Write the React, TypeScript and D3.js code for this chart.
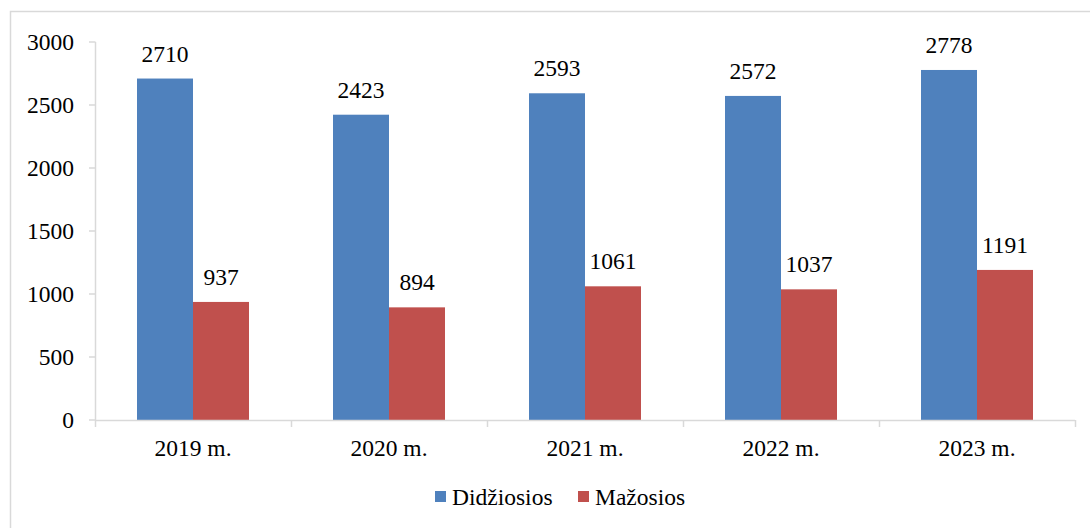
import React from 'react';
import * as d3 from 'd3';

const years = ['2019 m.', '2020 m.', '2021 m.', '2022 m.', '2023 m.'];
const seriesNames = ['Didžiosios', 'Mažosios'];
const didziosios = [2710, 2423, 2593, 2572, 2778];
const mazosios = [937, 894, 1061, 1037, 1191];
const yTicks = [0, 500, 1000, 1500, 2000, 2500, 3000];
const colors = ['#4f81bd', '#c0504d'];

const width = 1090;
const height = 528;
const textStyle = { fontFamily: '"Liberation Serif", "Times New Roman", serif', fontSize: '23.5px' };

export default function App() {
  const x = d3.scaleBand().domain(years).range([95, 1075]);
  const inner = d3.scaleBand().domain(seriesNames).range([42, x.bandwidth() - 42]);
  const y = d3.scaleLinear().domain([0, 3000]).range([420, 42]);
  const series = [didziosios, mazosios];
  const axisColor = '#d9d9d9';

  return (
    <svg width={width} height={height} style={{ position: 'absolute', left: 0, top: 0, background: '#fff' }}>
      <rect x={10.5} y={11.5} width={1100} height={540} fill="#fff" stroke={axisColor} strokeWidth={1.5} />
      {/* y axis */}
      <line x1={95.5} x2={95.5} y1={y(3000)} y2={y(0)} stroke={axisColor} strokeWidth={1.5} />
      {yTicks.map(t => (
        <g key={t}>
          <line x1={89} x2={95.5} y1={y(t)} y2={y(t)} stroke={axisColor} strokeWidth={1.5} />
          <text x={74} y={y(t)} dy="0.33em" textAnchor="end" style={textStyle} fill="#000">
            {t}
          </text>
        </g>
      ))}
      {/* bars */}
      {years.map((yr, i) => (
        <g key={yr} transform={`translate(${x(yr)},0)`}>
          {seriesNames.map((s, j) => {
            const v = series[j][i];
            const bx = inner(s)!;
            return (
              <g key={s}>
                <rect x={bx} y={y(v)} width={inner.bandwidth()} height={y(0) - y(v)} fill={colors[j]} />
                <text x={bx + inner.bandwidth() / 2} y={y(v) - 17} textAnchor="middle" style={textStyle} fill="#000">
                  {v}
                </text>
              </g>
            );
          })}
        </g>
      ))}
      {/* x axis */}
      <line x1={95} x2={1075} y1={420.5} y2={420.5} stroke={axisColor} strokeWidth={1.5} />
      {[...years.map(yr => x(yr)!), 1075].map((px, i) => (
        <line key={i} x1={px + 0.5} x2={px + 0.5} y1={420} y2={427} stroke={axisColor} strokeWidth={1.5} />
      ))}
      {years.map(yr => (
        <text key={yr} x={x(yr)! + x.bandwidth() / 2} y={456} textAnchor="middle" style={textStyle} fill="#000">
          {yr}
        </text>
      ))}
      {/* legend */}
      {seriesNames.map((s, j) => {
        const lx = j === 0 ? 435 : 578;
        return (
          <g key={s}>
            <rect x={lx} y={491} width={11} height={11} fill={colors[j]} />
            <text x={lx + 17} y={505} style={textStyle} fill="#000">
              {s}
            </text>
          </g>
        );
      })}
    </svg>
  );
}
